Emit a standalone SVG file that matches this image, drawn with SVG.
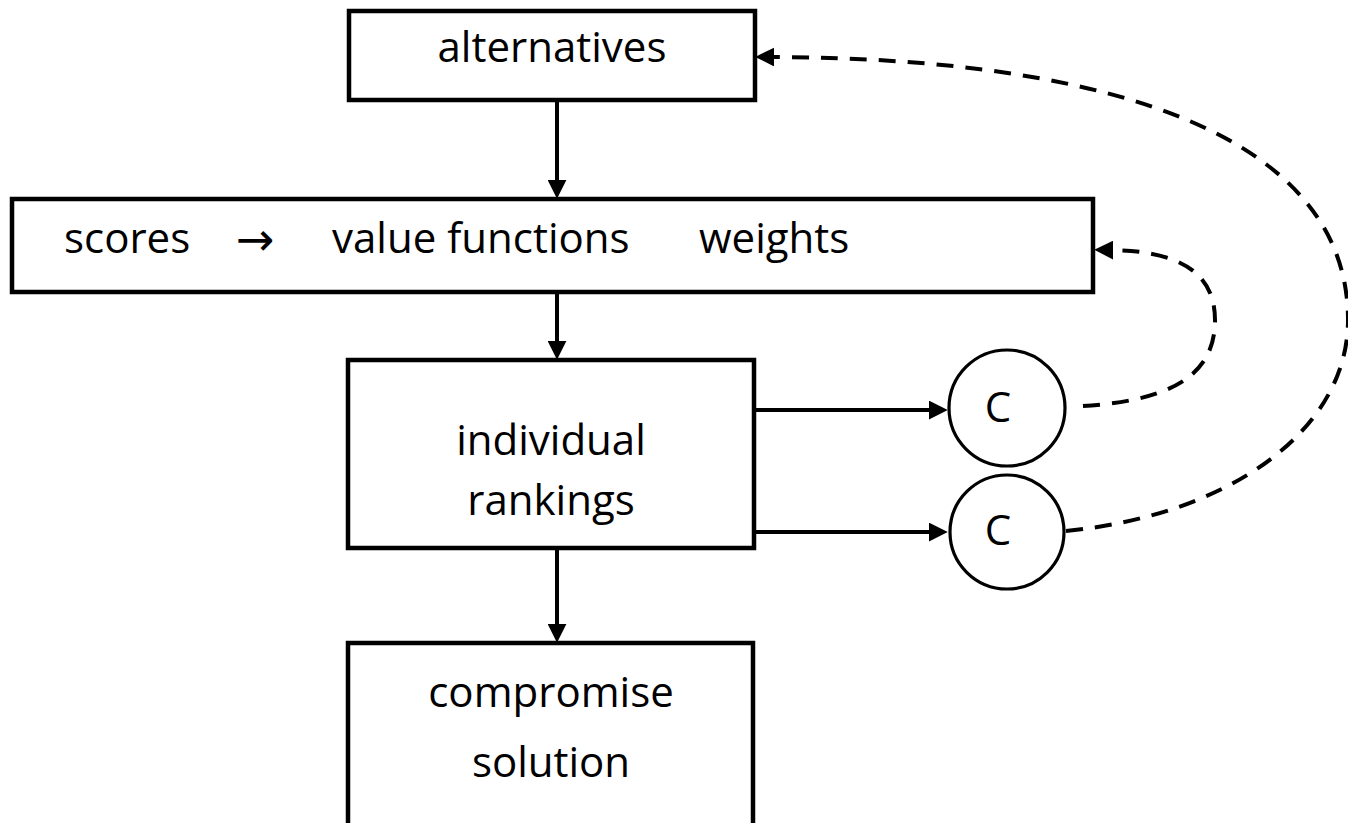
<svg xmlns="http://www.w3.org/2000/svg" width="1348" height="823" viewBox="0 0 1348 823">
<style>
.box{fill:#fff;stroke:#000;stroke-width:4.5}
.circ{fill:#fff;stroke:#000;stroke-width:3.2}
.lbl{font-family:"Open Sans","Liberation Sans",sans-serif;font-size:42px;fill:#000}
.sym{font-family:"DejaVu Sans",sans-serif;font-size:46px;fill:#000}
.mid{text-anchor:middle}
.solid{fill:none;stroke:#000;stroke-width:4}
.dash{fill:none;stroke:#000;stroke-width:4;stroke-dasharray:17 12}
</style>
<defs>
<marker id="ah" markerUnits="userSpaceOnUse" markerWidth="19" markerHeight="19" viewBox="0 0 17 17" refX="2" refY="8.5" orient="auto">
<path d="M0,0 L17,8.5 L0,17 z" fill="#000"/>
</marker>
</defs>
<rect width="1348" height="823" fill="#fff"/>
<g id="connectors">
<line class="solid" x1="557" y1="100" x2="557" y2="182" marker-end="url(#ah)"/>
<line class="solid" x1="557" y1="292" x2="557" y2="343" marker-end="url(#ah)"/>
<line class="solid" x1="557" y1="548" x2="557" y2="626" marker-end="url(#ah)"/>
<line class="solid" x1="754" y1="410" x2="931" y2="410" marker-end="url(#ah)"/>
<line class="solid" x1="754" y1="532" x2="931" y2="532" marker-end="url(#ah)"/>
<path class="dash" d="M1083,406 C1180,400 1215,370 1215,320 C1215,270 1175,251 1111,250" marker-end="url(#ah)"/>
<path class="dash" d="M1066,531 C1230,515 1348,430 1348,320 C1348,140 1120,58 772,57" marker-end="url(#ah)"/>
</g>
<g id="alternatives">
<rect class="box" x="349" y="11" width="406" height="89"/>
<text class="lbl mid" x="552" y="62">alternatives</text>
</g>
<g id="scores">
<rect class="box" x="12" y="199" width="1081" height="93"/>
<text class="lbl" y="253"><tspan x="64">scores</tspan><tspan class="sym" x="236" dy="2">→</tspan><tspan x="332" dy="-2">value functions</tspan><tspan x="699">weights</tspan></text>
</g>
<g id="rankings">
<rect class="box" x="348" y="360" width="406" height="188"/>
<text class="lbl mid" x="551" y="455">individual</text>
<text class="lbl mid" x="551" y="515">rankings</text>
</g>
<g id="c1">
<circle class="circ" cx="1007" cy="408" r="58"/>
<text class="lbl mid" x="998" y="422">C</text>
</g>
<g id="c2">
<circle class="circ" cx="1007" cy="532" r="57"/>
<text class="lbl mid" x="998" y="545">C</text>
</g>
<g id="compromise">
<rect class="box" x="348" y="643" width="405" height="200"/>
<text class="lbl mid" x="551" y="707">compromise</text>
<text class="lbl mid" x="551" y="777">solution</text>
</g>
</svg>
